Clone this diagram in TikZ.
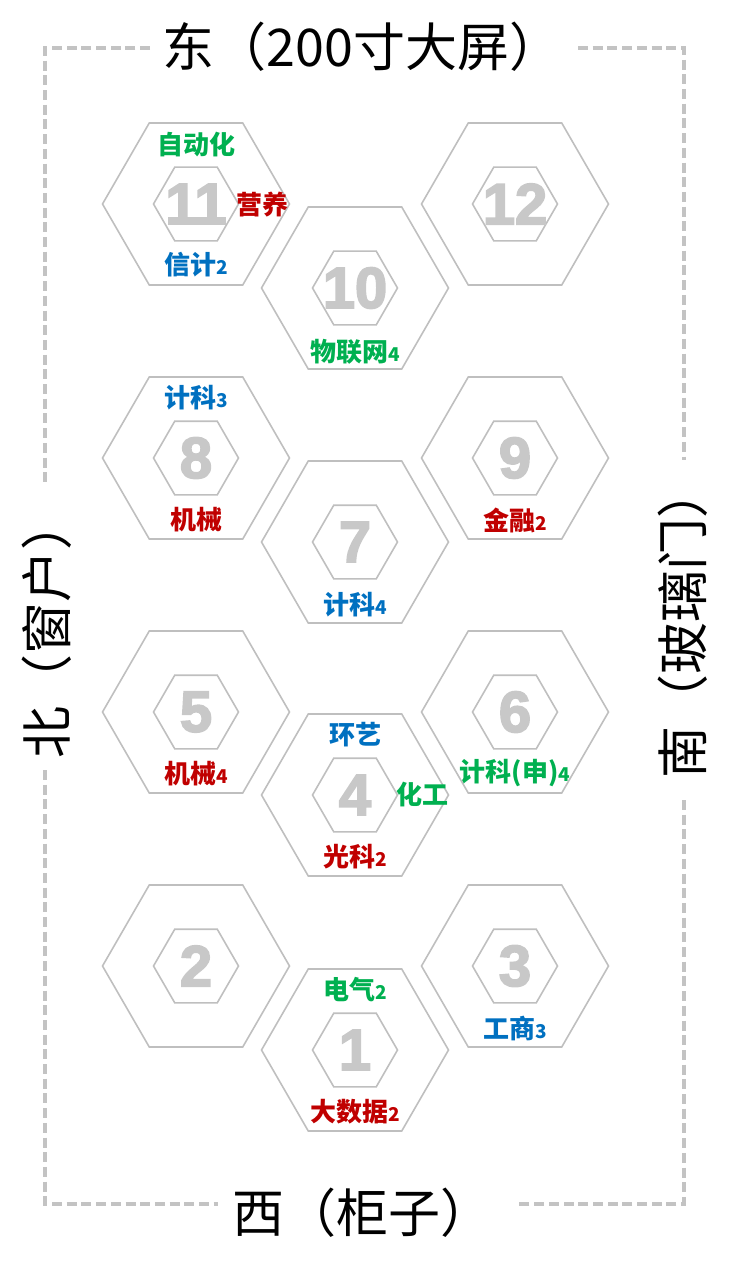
\documentclass[tikz,border=0pt]{standalone}
\usepackage{fontspec}
\newfontfamily\cjk{Noto Sans CJK SC}
\newfontfamily\numf[BoldFeatures={FakeBold=3}]{Liberation Sans}
\usetikzlibrary{shapes.geometric}
\definecolor{hexline}{RGB}{191,191,191}
\definecolor{numgray}{RGB}{200,200,200}
\definecolor{dashgray}{RGB}{195,195,195}
\definecolor{lgreen}{RGB}{0,176,80}
\definecolor{lblue}{RGB}{0,112,192}
\definecolor{lred}{RGB}{192,0,0}
\newcommand\subd[1]{{\fontsize{19}{19}\selectfont #1}}
\begin{document}
\begin{tikzpicture}[x=1pt,y=-1pt,
  outerhex/.style={draw=hexline,line width=1.6pt,regular polygon,regular polygon sides=6,minimum size=187pt,inner sep=0pt,outer sep=0pt},
  innerhex/.style={draw=hexline,line width=1.6pt,regular polygon,regular polygon sides=6,minimum size=85pt,inner sep=0pt,outer sep=0pt},
  num/.style={text=numgray,font=\numf\bfseries\fontsize{58}{58}\selectfont,inner sep=0pt},
  lab/.style={font=\cjk\bfseries\fontsize{26}{26}\selectfont,inner sep=0pt},
  side/.style={font=\cjk\fontsize{52}{52}\selectfont,inner sep=0pt},
  border/.style={draw=dashgray,line width=3.5pt,dash pattern=on 10pt off 4.7pt}
]
\useasboundingbox (0,0) rectangle (749,1280);
% dashed room outline
\draw[border] (150,48) -- (45,48) -- (45,485);
\draw[border] (45,770) -- (45,1204) -- (218,1204);
\draw[border] (578,48) -- (684,48) -- (684,460);
\draw[border] (684,800) -- (684,1204) -- (517,1204);
% side labels
\node[side] (east) at (362,47) {东（200寸大屏）};
\node[side] (west) at (362,1213) {西（柜子）};
\node[side,rotate=90] (north) at (47,628) {北（窗户）};
\node[side,rotate=90] (south) at (683,622) {南（玻璃门）};
% hexagons
\foreach \n/\x/\y in {11/196/204,12/515/204,10/355/288,8/196/458,9/515/458,7/355/542,5/196/712,6/515/712,4/355/795,2/196/966,3/515/966,1/355/1050}{
  \node[outerhex] (h\n) at (\x,\y) {};
  \node[innerhex] (i\n) at (\x,\y) {};
  \node[num] (n\n) at (\x,\y) {\n};
}
% labels
\node[lab,text=lgreen] (l11a) at (196,145) {自动化};
\node[lab,text=lred]   (l11b) at (262,205) {营养};
\node[lab,text=lblue]  (l11c) at (196,265) {信计\subd{2}};
\node[lab,text=lgreen] (l10a) at (355,352) {物联网\subd{4}};
\node[lab,text=lblue]  (l8a)  at (196,398) {计科\subd{3}};
\node[lab,text=lred]   (l8b)  at (196,520) {机械};
\node[lab,text=lred]   (l9a)  at (515,520) {金融\subd{2}};
\node[lab,text=lblue]  (l7a)  at (355,605) {计科\subd{4}};
\node[lab,text=lred]   (l5a)  at (196,774) {机械\subd{4}};
\node[lab,text=lgreen] (l6a)  at (515,773) {计科(申)\subd{4}};
\node[lab,text=lblue]  (l4a)  at (355,735) {环艺};
\node[lab,text=lgreen] (l4b)  at (422,795) {化工};
\node[lab,text=lred]   (l4c)  at (355,857) {光科\subd{2}};
\node[lab,text=lblue]  (l3a)  at (515,1028) {工商\subd{3}};
\node[lab,text=lgreen] (l1a)  at (355,990) {电气\subd{2}};
\node[lab,text=lred]   (l1b)  at (355,1112) {大数据\subd{2}};
\end{tikzpicture}
\end{document}
